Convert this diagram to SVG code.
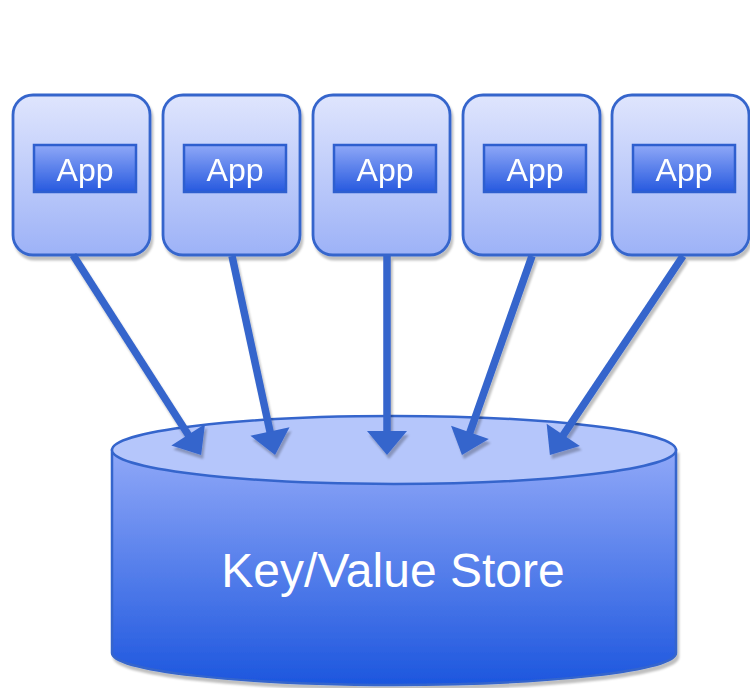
<svg xmlns="http://www.w3.org/2000/svg" width="750" height="688" viewBox="0 0 750 688">
  <defs>
    <linearGradient id="boxFill" x1="0" y1="0" x2="0" y2="1">
      <stop offset="0" stop-color="#dfe5fd"/>
      <stop offset="1" stop-color="#9db2f7"/>
    </linearGradient>
    <linearGradient id="appFill" x1="0" y1="0" x2="0" y2="1">
      <stop offset="0" stop-color="#8fa8f7"/>
      <stop offset="1" stop-color="#2659df"/>
    </linearGradient>
    <linearGradient id="bodyFill" gradientUnits="userSpaceOnUse" x1="0" y1="450" x2="0" y2="686">
      <stop offset="0" stop-color="#90a8f8"/>
      <stop offset="1" stop-color="#1c56de"/>
    </linearGradient>
    <filter id="shadow" x="-10%" y="-10%" width="130%" height="130%">
      <feGaussianBlur in="SourceAlpha" stdDeviation="0.8"/>
      <feOffset dx="2" dy="4" result="off"/>
      <feFlood flood-color="#000" flood-opacity="0.25"/>
      <feComposite in2="off" operator="in"/>
      <feMerge>
        <feMergeNode/>
        <feMergeNode in="SourceGraphic"/>
      </feMerge>
    </filter>
    <marker id="head" markerUnits="userSpaceOnUse" markerWidth="26" markerHeight="42" refX="1" refY="20" orient="auto" overflow="visible">
      <path d="M0,0 L24,20 L0,40 Z" fill="#3565cc"/>
    </marker>
  </defs>
  <style>
    .box { fill: url(#boxFill); stroke: #3565cc; stroke-width: 2.8; }
    .app { fill: url(#appFill); stroke: #2f5fcf; stroke-width: 2.5; }
    .label { fill: #ffffff; font-family: "Liberation Sans", Arial, sans-serif; text-anchor: middle; }
    .arrow { stroke: #3565cc; stroke-width: 7.5; fill: none; marker-end: url(#head); }
    .cyl { stroke: #3565cc; stroke-width: 2.5; }
  </style>

  <!-- storage cylinder -->
  <g id="store">
    <g filter="url(#shadow)">
      <path class="cyl" d="M112,450 L112,653 A282,32 0 0 0 676,653 L676,450 Z" fill="url(#bodyFill)"/>
    </g>
    <ellipse class="cyl" cx="394" cy="450" rx="282" ry="34" fill="#b5c6fb"/>
    <text class="label" x="393" y="587" font-size="48">Key/Value Store</text>
  </g>

  <!-- application nodes -->
  <g id="app1" filter="url(#shadow)">
    <rect class="box" x="13" y="95" width="137" height="160" rx="20"/>
    <rect class="app" x="34" y="145" width="102" height="47"/>
    <text class="label" x="85" y="181" font-size="32">App</text>
  </g>
  <g id="app2" filter="url(#shadow)">
    <rect class="box" x="163" y="95" width="137" height="160" rx="20"/>
    <rect class="app" x="184" y="145" width="102" height="47"/>
    <text class="label" x="235" y="181" font-size="32">App</text>
  </g>
  <g id="app3" filter="url(#shadow)">
    <rect class="box" x="313" y="95" width="137" height="160" rx="20"/>
    <rect class="app" x="334" y="145" width="102" height="47"/>
    <text class="label" x="385" y="181" font-size="32">App</text>
  </g>
  <g id="app4" filter="url(#shadow)">
    <rect class="box" x="463" y="95" width="137" height="160" rx="20"/>
    <rect class="app" x="484" y="145" width="102" height="47"/>
    <text class="label" x="535" y="181" font-size="32">App</text>
  </g>
  <g id="app5" filter="url(#shadow)">
    <rect class="box" x="612" y="95" width="137" height="160" rx="20"/>
    <rect class="app" x="633" y="145" width="102" height="47"/>
    <text class="label" x="684" y="181" font-size="32">App</text>
  </g>

  <!-- connectors -->
  <g id="connectors" filter="url(#shadow)">
    <line class="arrow" x1="73" y1="255" x2="188.7" y2="435.6"/>
    <line class="arrow" x1="232" y1="256" x2="270.2" y2="432.5"/>
    <line class="arrow" x1="387" y1="256" x2="387" y2="432"/>
    <line class="arrow" x1="532" y1="256" x2="469.6" y2="433.3"/>
    <line class="arrow" x1="683" y1="256" x2="562.7" y2="435.8"/>
  </g>
</svg>
